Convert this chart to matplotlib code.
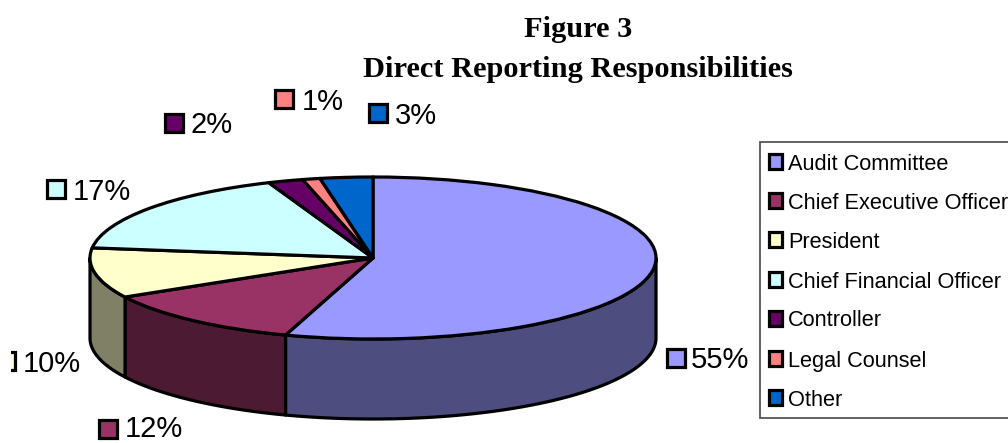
import numpy as np
import matplotlib
matplotlib.use("Agg")
import matplotlib.pyplot as plt
from matplotlib.patches import Polygon, Rectangle

categories = ["Audit Committee", "Chief Executive Officer", "President",
              "Chief Financial Officer", "Controller", "Legal Counsel", "Other"]
values = [55, 12, 10, 17, 2, 1, 3]
colors = ["#9999FF", "#993366", "#FFFFCC", "#CCFFFF", "#660066", "#FF8080", "#0066CC"]
side_colors = ["#4D4D80", "#4D1A33", "#808066", "#668080", "#330033", "#804040", "#003366"]
title_lines = ["Figure 3", "Direct Reporting Responsibilities"]

W, H = 1008, 443
CX, CY, RX, RY, DEPTH = 373.0, 258.0, 283.0, 81.0, 80.0
LW = 2.3

# label placement: marker left, marker top, marker size, text left, baseline
label_pos = [(667, 349, 18, 691, 368), (99, 420, 18, 125, 437), (-3, 352, 18, 23, 372),
             (47, 180, 18, 73, 200), (165, 114, 18, 191, 133), (275, 90, 18, 302, 110),
             (369, 104, 18, 395, 124)]
legend_rows = [162, 201, 240, 280, 319, 359, 398]

fig = plt.figure(figsize=(W / 100, H / 100), dpi=100, facecolor="white")
font = ["Liberation Sans", "DejaVu Sans"]

# pie axes: unit circle maps on to the top ellipse of the 3D pie
ax = fig.add_axes([0, 0, 1, 1])
ax.pie(values, colors=colors, startangle=90, counterclock=False, radius=1,
       wedgeprops=dict(edgecolor="black", linewidth=LW, clip_on=False, zorder=3,
                       joinstyle="round"))
ax.set_aspect("auto")
ax.set_xlim(-CX / RX, (W - CX) / RX)
ax.set_ylim((CY - H) / RY, CY / RY)
ax.axis("off")

# side wall of the pie, from the same values
edges = np.cumsum([0] + values) / sum(values) * 360.0
d = DEPTH / RY
for i in range(len(values)):
    a0, a1 = max(edges[i], 90.0), min(edges[i + 1], 270.0)
    if a1 <= a0:
        continue
    t = np.radians(np.linspace(a0, a1, 120))
    x, y = np.sin(t), np.cos(t)
    pts = np.r_[np.c_[x, y], np.c_[x[::-1], y[::-1] - d]]
    ax.add_patch(Polygon(pts, closed=True, facecolor=side_colors[i], edgecolor="black",
                         linewidth=LW, zorder=2, clip_on=False, joinstyle="round"))

# pixel-coordinate overlay for title, labels and legend
px = fig.add_axes([0, 0, 1, 1], facecolor="none")
px.set_xlim(0, W)
px.set_ylim(H, 0)
px.axis("off")

for line, base in zip(title_lines, [37, 77]):
    px.text(578, base, line, ha="center", va="baseline", fontsize=21.9, fontweight="bold",
            family=["Liberation Serif", "DejaVu Serif"], color="black")

for v, c, (mx, my, ms, tx, by) in zip(values, colors, label_pos):
    r = Rectangle((mx, my), ms, ms, facecolor=c, edgecolor="black", linewidth=LW, zorder=5)
    px.add_patch(r)
    if mx < 0:
        r.set_clip_path(Rectangle((11, 340), 20, 50, transform=px.transData))
    px.text(tx, by, f"{v}%", fontsize=21, va="baseline", ha="left", family=font, color="black")

px.add_patch(Rectangle((760, 142), 300, 276, facecolor="white", edgecolor="#555555",
                       linewidth=1.3, zorder=4, clip_on=True))
for name, c, yy in zip(categories, colors, legend_rows):
    px.add_patch(Rectangle((768.5, yy - 8), 13.5, 15, facecolor=c, edgecolor="black",
                           linewidth=LW, zorder=5))
    px.text(788, yy + 7.5, name, fontsize=15.65, va="baseline", ha="left", family=font,
            color="black", zorder=6)

fig.savefig("out.png", dpi=100, facecolor="white")
